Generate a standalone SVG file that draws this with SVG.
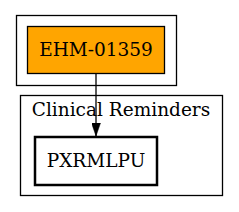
<svg xmlns="http://www.w3.org/2000/svg" width="239" height="212" viewBox="0 0 239 212">
<defs>
<marker id="arrow" markerWidth="13" markerHeight="9" refX="13" refY="4.5" orient="auto" markerUnits="userSpaceOnUse" viewBox="0 0 13 9">
<path d="M0,0 L13,4.5 L0,9 Z" fill="#000" stroke="#000" stroke-width="0.5"/>
</marker>
<style>
text{font-family:"DejaVu Serif",serif;font-size:18.5px;fill:#000;text-anchor:middle}
.cluster{fill:none;stroke:#000;stroke-width:1.3}
</style>
</defs>
<rect width="239" height="212" fill="#fff"/>
<g id="cluster1">
<rect class="cluster" x="16.5" y="15.5" width="160" height="70"/>
</g>
<g id="cluster2">
<rect class="cluster" x="20.5" y="95.5" width="202" height="100"/>
<text x="121" y="116">Clinical Reminders</text>
</g>
<g id="connectors">
<line x1="96" y1="74" x2="96" y2="136" stroke="#000" stroke-width="1.3" marker-end="url(#arrow)"/>
</g>
<g id="EHM-01359">
<rect x="27.5" y="26.5" width="137" height="47" fill="#ffa500" stroke="#000" stroke-width="1.3"/>
<text x="96" y="56">EHM-01359</text>
</g>
<g id="PXRMLPU">
<rect x="35" y="137" width="122" height="48" fill="#fff" stroke="#000" stroke-width="2.5"/>
<text x="96" y="167">PXRMLPU</text>
</g>
</svg>
